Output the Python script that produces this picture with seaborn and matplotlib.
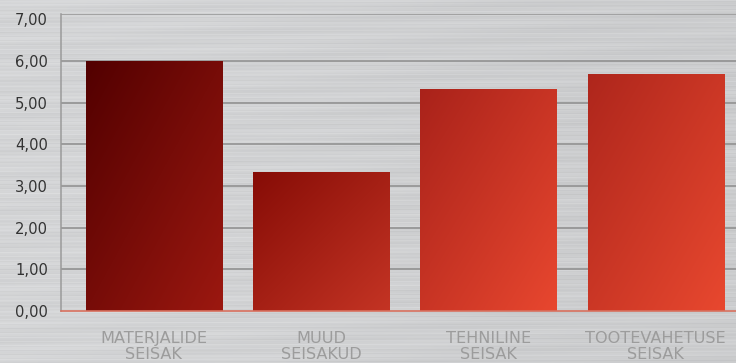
import numpy as np
import matplotlib
matplotlib.use("Agg")
import matplotlib.pyplot as plt
from matplotlib.colors import LinearSegmentedColormap
import seaborn as sns

categories = ["MATERJALIDE\nSEISAK", "MUUD\nSEISAKUD", "TEHNILINE\nSEISAK", "TOOTEVAHETUSE\nSEISAK"]
values = [6.00, 3.34, 5.34, 5.69]
y_ticks = [0, 1, 2, 3, 4, 5, 6, 7]
y_tick_labels = ["0,00", "1,00", "2,00", "3,00", "4,00", "5,00", "6,00", "7,00"]

# per-bar gradient (top-left colour, bottom-right colour)
bar_grad = [("#520000", "#9c1810"),
            ("#860c06", "#c43424"),
            ("#a9221a", "#e8472f"),
            ("#ae261c", "#e8482f")]

sns.set_theme(style="white")
plt.rcParams["font.family"] = ["DejaVu Sans"]

W, H = 736, 363
fig = plt.figure(figsize=(W / 100, H / 100), dpi=100)

# brushed-metal style background (deterministic streaks)
yy = np.arange(H)[:, None]
xx = np.arange(W)[None, :]
streak = (0.012 * np.sin(yy * 1.7 + xx * 0.003) + 0.010 * np.sin(yy * 0.53 + xx * 0.004)
          + 0.008 * np.sin(yy * 3.1 + xx * 0.011) + 0.006 * np.sin(xx * 0.02 + yy * 0.2))
base = 0.815 + 0.015 * np.cos(xx / W * np.pi) + streak
bg = np.clip(np.dstack([base, base + 0.004, base + 0.010]), 0, 1)
fig.figimage(bg, xo=0, yo=0, zorder=-10)

left, right, top, bottom = 61, 736, 14, 311
ax = fig.add_axes([left / W, (H - bottom) / H, (right - left) / W, (bottom - top) / H])
ax.set_zorder(1)
ax.patch.set_alpha(0)

ymax = 7.13
sns.barplot(x=categories, y=values, ax=ax, width=0.815, color="#b02a1e",
            saturation=1, linewidth=0, zorder=3)

# gradient fill clipped to each bar
g = np.linspace(0, 1, 200)
U, V = np.meshgrid(g, g)
T = (U + V) / 2.0
for p, (c0, c1) in zip(ax.patches, bar_grad):
    cmap = LinearSegmentedColormap.from_list("b", [c0, c1])
    x0, y0 = p.get_x(), p.get_y()
    w, h = p.get_width(), p.get_height()
    im = ax.imshow(T, cmap=cmap, vmin=0, vmax=1, extent=[x0, x0 + w, y0, y0 + h],
                   origin="upper", aspect="auto", zorder=3, interpolation="bilinear")
    im.set_clip_path(p)
    p.set_facecolor("none")
ax.set_xlim(-0.555, 3.48)
ax.set_ylim(0, ymax)

# grid
for t in y_ticks[1:7]:
    ax.axhline(t, color="#8c8c8c", lw=1.1, zorder=1)
ax.axhline(ymax, color="#9a9a9a", lw=1.2, zorder=1)

for s in ["top", "right"]:
    ax.spines[s].set_visible(False)
ax.spines["left"].set_color("#9a9a9a")
ax.spines["left"].set_linewidth(1.1)
ax.spines["bottom"].set_color("#d8705e")
ax.spines["bottom"].set_linewidth(1.2)
ax.spines["bottom"].set_zorder(4)

ax.set_yticks(y_ticks)
ax.set_yticklabels(y_tick_labels, fontsize=10.6, color="#333333")
ax.tick_params(axis="y", length=0, pad=9.4)
ax.tick_params(axis="x", length=0, pad=14.5)
ax.set_xticks(range(len(categories)))
ax.set_xticklabels(categories, fontsize=11.6, color="#9c9c9c", linespacing=1.08)
ax.set_xlabel("")
ax.set_ylabel("")

fig.savefig("out.png", dpi=100)
